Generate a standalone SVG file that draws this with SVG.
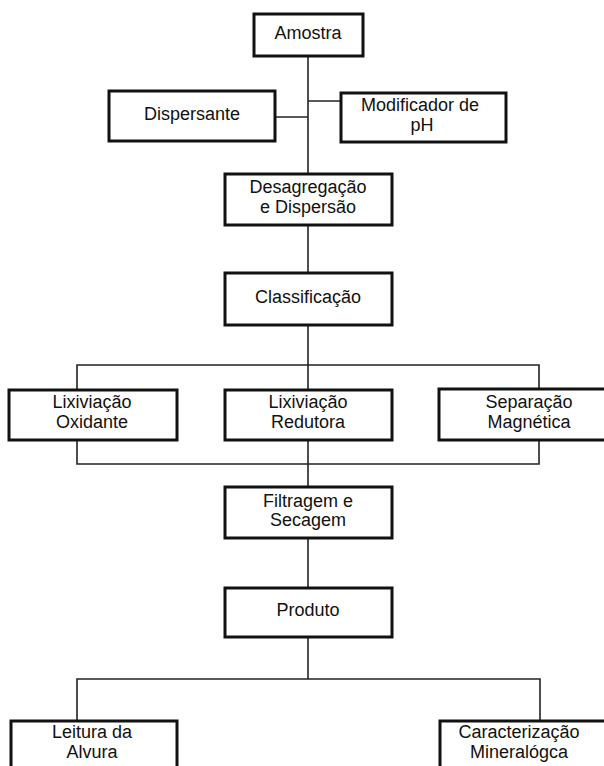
<svg xmlns="http://www.w3.org/2000/svg" width="604" height="766" viewBox="0 0 604 766">
<style>
.box{fill:#fff;stroke:#111;stroke-width:3}
.ln{fill:none;stroke:#222;stroke-width:1.6}
text{font-family:"Liberation Sans",Arial,sans-serif;font-size:18px;fill:#111;text-anchor:middle}
</style>
<rect width="604" height="766" fill="#fff"/>
<g id="connectors">
<line class="ln" x1="308" y1="56" x2="308" y2="174"/>
<line class="ln" x1="308" y1="101" x2="341" y2="101"/>
<line class="ln" x1="275" y1="117" x2="308" y2="117"/>
<line class="ln" x1="308" y1="225" x2="308" y2="273"/>
<line class="ln" x1="308" y1="325" x2="308" y2="390"/>
<polyline class="ln" points="77,390 77,365 539,365 539,390"/>
<polyline class="ln" points="77,440 77,464 539,464 539,440"/>
<line class="ln" x1="308" y1="440" x2="308" y2="487"/>
<line class="ln" x1="308" y1="538" x2="308" y2="588"/>
<line class="ln" x1="308" y1="637" x2="308" y2="679"/>
<polyline class="ln" points="77,721 77,679 540,679 540,721"/>
</g>
<g id="amostra"><rect class="box" x="254" y="14" width="109" height="42"/><text x="308" y="39">Amostra</text></g>
<g id="dispersante"><rect class="box" x="109" y="91" width="166" height="50"/><text x="192" y="120">Dispersante</text></g>
<g id="modificador"><rect class="box" x="341" y="93" width="165" height="49"/><text x="420" y="111">Modificador de</text><text x="422" y="131">pH</text></g>
<g id="desagregacao"><rect class="box" x="225" y="174" width="167" height="51"/><text x="308" y="193">Desagregação</text><text x="308" y="213">e Dispersão</text></g>
<g id="classificacao"><rect class="box" x="225" y="273" width="167" height="52"/><text x="308" y="303">Classificação</text></g>
<g id="lix-oxidante"><rect class="box" x="9" y="390" width="168" height="50"/><text x="92" y="408">Lixiviação</text><text x="92" y="428">Oxidante</text></g>
<g id="lix-redutora"><rect class="box" x="225" y="390" width="167" height="50"/><text x="308" y="408">Lixiviação</text><text x="308" y="428">Redutora</text></g>
<g id="sep-magnetica"><rect class="box" x="439" y="389" width="175" height="51"/><text x="529" y="408">Separação</text><text x="529" y="428">Magnética</text></g>
<g id="filtragem"><rect class="box" x="225" y="487" width="167" height="51"/><text x="308" y="507">Filtragem e</text><text x="308" y="526">Secagem</text></g>
<g id="produto"><rect class="box" x="225" y="588" width="167" height="49"/><text x="308" y="616">Produto</text></g>
<g id="leitura"><rect class="box" x="11" y="721" width="166" height="52"/><text x="92" y="738">Leitura da</text><text x="92" y="758">Alvura</text></g>
<g id="caracterizacao"><rect class="box" x="440" y="721" width="174" height="52"/><text x="519" y="738">Caracterização</text><text x="519" y="758">Mineralógca</text></g>
</svg>
